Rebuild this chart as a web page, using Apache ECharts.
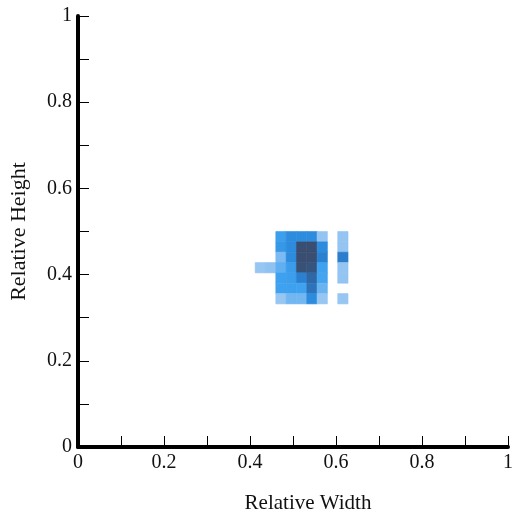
<!DOCTYPE html>
<html>
<head>
<meta charset="utf-8">
<script src="https://cdn.jsdelivr.net/npm/echarts@6/dist/echarts.min.js"></script>
<style>
  html, body { margin: 0; padding: 0; background: #fff; }
  #chart { width: 512px; height: 515px; }
</style>
</head>
<body>
<div id="chart"></div>
<script>
// left edges of the cell columns (relative width)
const xBins = [0.412, 0.436, 0.46, 0.484, 0.508, 0.532, 0.556, 0.58, 0.604]
// bottom edges of the cell rows, top row first (relative height)
const yBins = [0.476, 0.452, 0.428, 0.404, 0.380, 0.356, 0.332]
// density per cell, null = empty
const density = [
  [null, null, 0.28, 0.45, 0.45, 0.45, 0.07, null, 0.07],
  [null, null, 0.34, 0.45, 0.97, 0.97, 0.45, null, 0.07],
  [null, null, 0.12, 0.45, 0.97, 0.97, 0.55, null, 0.58],
  [0.06, 0.08, 0.18, 0.30, 0.95, 0.92, 0.25, null, 0.07],
  [null, null, 0.26, 0.28, 0.55, 0.78, 0.24, null, 0.07],
  [null, null, 0.25, 0.26, 0.25, 0.68, 0.16, null, null],
  [null, null, 0.06, 0.14, 0.14, 0.45, 0.06, null, 0.06]
]
const cellSize = 0.024

const cells = []
yBins.forEach((y, r) => {
  xBins.forEach((x, c) => {
    const v = density[r][c]
    if (v != null) cells.push([x, y, v])
  })
})

const font = 'Liberation Serif, Times New Roman, serif'
const tickLabel = v => {
  const k = Math.round(v * 10)
  return k % 2 ? '' : String(k / 10)
}

const axisCommon = {
  type: 'value',
  min: 0,
  max: 1,
  interval: 0.1,
  nameLocation: 'middle',
  axisLine: {show: true, lineStyle: {color: '#000', width: 4}},
  axisTick: {show: true, inside: true, length: 11, lineStyle: {color: '#000', width: 1}},
  axisLabel: {formatter: tickLabel, fontFamily: font, fontSize: 20, color: '#111', margin: 6},
  splitLine: {show: false}
}

const myChart = echarts.init(document.getElementById('chart'))
myChart.setOption({
  animation: false,
  grid: {left: 78, right: 4, top: 16, bottom: 68, outerBoundsMode: 'none', containLabel: false},
  xAxis: Object.assign({}, axisCommon, {
    name: 'Relative Width',
    nameGap: 46,
    nameTextStyle: {fontFamily: font, fontSize: 21, color: '#111', padding: [0, 0, 0, 30]}
  }),
  yAxis: Object.assign({}, axisCommon, {
    name: 'Relative Height',
    nameGap: 48,
    nameTextStyle: {fontFamily: font, fontSize: 22, color: '#111'}
  }),
  visualMap: {
    show: false,
    dimension: 2,
    min: 0,
    max: 1,
    inRange: {color: ['#b3d1f3', '#3fa2f0', '#2a86da', '#2e6cae', '#3a4a68']}
  },
  series: [{
    type: 'custom',
    data: cells,
    encode: {x: 0, y: 1},
    renderItem: (params, api) => {
      const x = api.value(0)
      const y = api.value(1)
      const p0 = api.coord([x, y + cellSize])
      const p1 = api.coord([x + cellSize, y])
      const color = api.visual('color')
      return {
        type: 'rect',
        shape: {x: p0[0], y: p0[1], width: p1[0] - p0[0], height: p1[1] - p0[1]},
        style: {fill: color, stroke: color, lineWidth: 0.6}
      }
    }
  }]
})
</script>
</body>
</html>
